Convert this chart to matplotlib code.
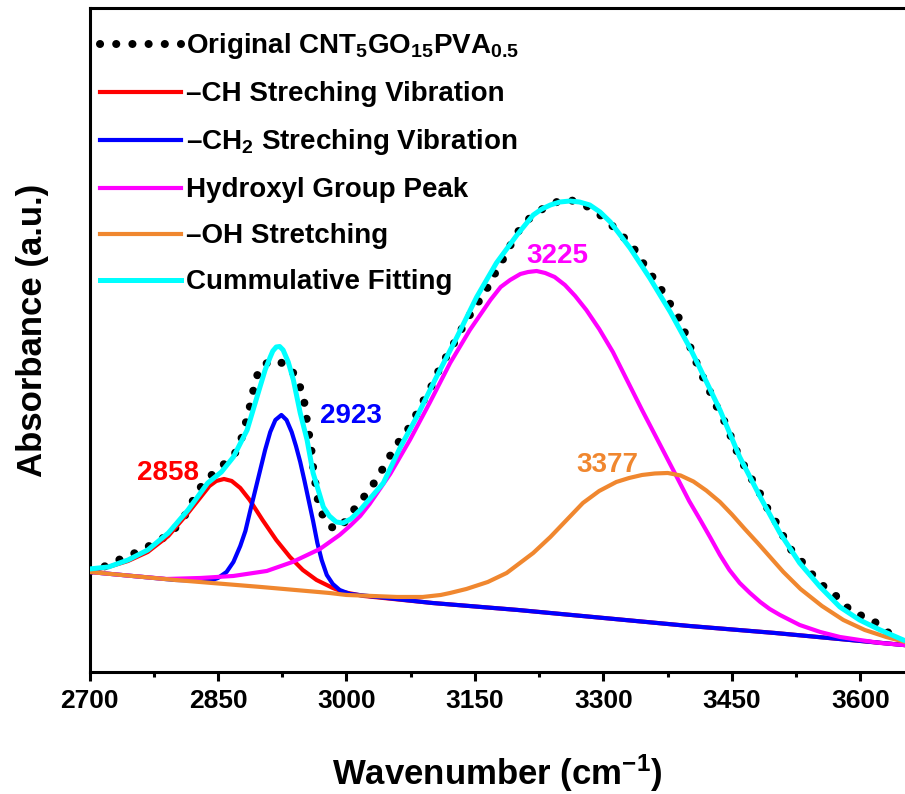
import matplotlib
matplotlib.use('Agg')
import matplotlib.pyplot as plt
from matplotlib.ticker import MultipleLocator

# values (absorbance in arbitrary units)
orig_x = [2700, 2719, 2739, 2759, 2776, 2792, 2807, 2817, 2827, 2840, 2856, 2870, 2878, 2884,
          2889, 2893, 2899, 2914, 2932, 2943, 2950, 2953, 2956, 2959, 2961, 2964, 2967, 2973,
          2986, 2998, 3012, 3025, 3037, 3048, 3060, 3070, 3080, 3089, 3100, 3109, 3119, 3129,
          3138, 3150, 3162, 3171, 3181, 3187, 3200, 3214, 3232, 3251, 3270, 3288, 3304, 3317,
          3333, 3343, 3355, 3367, 3380, 3391, 3397, 3405, 3413, 3422, 3430, 3440, 3448, 3456,
          3465, 3475, 3485, 3494, 3506, 3514, 3529, 3541, 3555, 3568, 3591, 3610, 3625, 3642, 3652]
orig_y = [100, 106, 114, 121, 129, 137, 150, 165, 182, 195, 207, 219, 235, 254,
          272, 289, 305, 312, 307, 292, 274, 256, 239, 222, 205, 187, 170, 155,
          142, 150, 166, 180, 195, 212, 229, 240, 255, 270, 287, 304, 319, 334,
          349, 365, 380, 395, 410, 420, 440, 454, 465, 472, 471, 462, 452, 440,
          427, 413, 398, 383, 365, 350, 334, 317, 300, 285, 269, 253, 237, 220,
          205, 190, 175, 159, 144, 127, 113, 100, 87, 79, 59, 54, 45, 32, 28]

ch_x = [2700, 2722, 2745, 2768, 2792, 2815, 2828, 2840, 2848, 2857, 2866, 2876, 2887, 2902,
        2918, 2934, 2949, 2965, 2984, 2996, 3020, 3100, 3200, 3300, 3400, 3500, 3600, 3650]
ch_y = [101, 105, 111, 120, 136, 159, 173, 186, 191, 193, 191, 184, 172, 152,
        132, 115, 102, 92, 84, 80, 76, 69, 62, 54, 46, 39, 31, 27]

ch2_x = [2700, 2800, 2840, 2850, 2860, 2868, 2876, 2882, 2887, 2893, 2899, 2905, 2911, 2917,
         2924, 2930, 2936, 2941, 2946, 2951, 2956, 2961, 2966, 2971, 2977, 2984, 2992, 3004,
         3100, 3200, 3300, 3400, 3500, 3600, 3650]
ch2_y = [100, 92, 91, 94, 100, 110, 126, 141, 159, 180, 201, 222, 240, 252,
         257, 252, 240, 226, 210, 191, 171, 151, 129, 112, 97, 88, 82, 78,
         69, 62, 54, 46, 39, 31, 27]

hyd_x = [2700, 2750, 2790, 2830, 2868, 2907, 2937, 2969, 2992, 3004, 3016, 3027, 3039, 3051,
         3074, 3097, 3121, 3144, 3168, 3180, 3191, 3203, 3212, 3222, 3232, 3243, 3255, 3267,
         3280, 3295, 3311, 3328, 3345, 3362, 3385, 3400, 3413, 3425, 3436, 3447, 3459, 3471,
         3483, 3494, 3506, 3529, 3553, 3576, 3599, 3623, 3650]
hyd_y = [100, 96, 93, 94, 96, 101, 110, 123, 137, 146, 156, 168, 183, 198,
         232, 269, 309, 342, 372, 385, 392, 398, 400, 401, 399, 395, 387, 376,
         362, 343, 320, 291, 262, 234, 196, 171, 152, 134, 117, 102, 89, 79,
         70, 63, 57, 47, 40, 35, 32, 29, 27]

oh_x = [2700, 2800, 2900, 2980, 3000, 3030, 3059, 3089, 3110, 3121, 3140, 3165, 3187, 3218,
        3238, 3257, 3276, 3295, 3315, 3330, 3345, 3360, 3375, 3390, 3405, 3420, 3436, 3450,
        3465, 3480, 3495, 3510, 3530, 3555, 3580, 3605, 3630, 3652]
oh_y = [100, 92, 85, 79, 77, 76, 75, 75, 77, 79, 83, 90, 99, 119,
        135, 152, 169, 181, 190, 194, 197, 198.5, 199, 196.5, 190.5, 181.5, 170, 157.5,
        143, 129, 114.5, 100, 83, 66, 52, 42, 35, 30]

cum_x = [2700, 2722, 2745, 2768, 2792, 2815, 2838, 2854, 2868, 2884, 2899, 2905, 2911, 2914,
         2918, 2922, 2926, 2932, 2938, 2946, 2954, 2961, 2973, 2980, 2988, 2996, 3005, 3016,
         3043, 3063, 3082, 3105, 3129, 3152, 3175, 3199, 3218, 3228, 3238, 3249, 3261, 3272,
         3284, 3296, 3308, 3331, 3354, 3378, 3401, 3413, 3436, 3459, 3483, 3506, 3529, 3553,
         3576, 3599, 3623, 3650]
cum_y = [103, 105, 112, 122, 139, 162, 189, 200, 215, 242, 285, 302, 315, 321,
         325, 325.5, 322, 310, 292, 259, 232, 199, 165, 156, 150, 149, 153, 162,
         189, 225, 255, 295, 335, 375, 409, 437, 457, 463, 467, 470, 471, 470,
         467, 460, 450, 424, 394, 360, 324, 303, 262, 215, 175, 139, 109, 85,
         65, 52, 42, 32]

labels = [r'Original CNT$_5$GO$_{15}$PVA$_{0.5}$',
          '–CH Streching Vibration',
          r'–CH$_2$ Streching Vibration',
          'Hydroxyl Group Peak',
          '–OH Stretching',
          'Cummulative Fitting']
peak_labels = ['2858', '2923', '3225', '3377']
peak_pos = [(2792, 192), (3005, 249), (3246, 409), (3304, 200)]
colors = ['#FF0000', '#0000FF', '#FF00FF', '#F0872F']

plt.rcParams.update({
    'font.family': 'Liberation Sans',
    'font.weight': 'bold',
    'mathtext.fontset': 'custom',
    'mathtext.rm': 'Liberation Sans:bold',
    'mathtext.bf': 'Liberation Sans:bold',
    'mathtext.default': 'bf',
})

fig = plt.figure(figsize=(9.05, 7.94), dpi=100)
ax = fig.add_axes([0.0989, 0.1537, 0.9011, 0.8362])

ax.plot(orig_x, orig_y, color='black', lw=5.8, linestyle=(0, (0.01, 2.0)),
        dash_capstyle='round', label=labels[0], zorder=2)
ax.plot(ch_x, ch_y, color=colors[0], lw=3, label=labels[1], zorder=3)
ax.plot(ch2_x, ch2_y, color=colors[1], lw=3, label=labels[2], zorder=4)
ax.plot(hyd_x, hyd_y, color=colors[2], lw=3, label=labels[3], zorder=5)
ax.plot(oh_x, oh_y, color=colors[3], lw=3, label=labels[4], zorder=6)
ax.plot(cum_x, cum_y, color='#00FFFF', lw=3.6, label=labels[5], zorder=7)

for txt, (px, py), c in zip(peak_labels, peak_pos, colors):
    ax.text(px, py, txt, color=c, fontsize=20, fontweight='bold', ha='center', va='baseline')

ax.set_xlim(2700, 3652)
ax.set_ylim(0, 664)
ax.xaxis.set_major_locator(MultipleLocator(150))
ax.xaxis.set_minor_locator(MultipleLocator(75))
ax.set_yticks([])
ax.tick_params(axis='x', which='major', direction='out', length=6.5, width=2.2,
               labelsize=19, pad=6)
ax.tick_params(axis='x', which='minor', direction='out', length=3.6, width=2.2)
for s in ['left', 'bottom', 'top']:
    ax.spines[s].set_linewidth(2.2)
ax.spines['right'].set_visible(False)

ax.set_xlabel(r'Wavenumber (cm$^{-1}$)', fontsize=25, fontweight='bold', labelpad=28)
fig.text(0.036, 1 - 330 / 794, 'Absorbance (a.u.)', rotation=90, fontsize=25,
         fontweight='bold', ha='center', va='center')

ax.legend(loc='upper left', bbox_to_anchor=(0.013, 0.965), frameon=False, fontsize=20,
          handlelength=2.9, handletextpad=0.2, labelspacing=0.72, borderpad=0,
          borderaxespad=0)

fig.savefig('out.png', dpi=100)
